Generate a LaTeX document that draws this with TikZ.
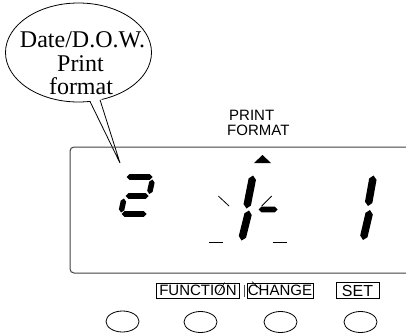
\documentclass[tikz,border=0pt]{standalone}
\usepackage{fontspec}
\setmainfont{Liberation Serif}
\setsansfont{Liberation Sans}
\usetikzlibrary{calc,shapes.geometric}
\newcommand\lcdseg[3]{%
  \fill ($(#1)$) -- ($(#1)!#3!45:(#2)$) -- ($(#2)!#3!-45:(#1)$) -- ($(#2)$)
        -- ($(#2)!#3!45:(#1)$) -- ($(#1)!#3!-45:(#2)$) -- cycle;}
\begin{document}
\begin{tikzpicture}[x=1pt,y=-1pt,
  thinline/.style={line width=0.8pt, black},
  frame/.style={line width=1pt, black!75},
  btnbox/.style={draw, line width=0.8pt, inner sep=0pt, font=\sffamily\fontsize{15}{15}\selectfont},
  knob/.style={draw, line width=0.8pt, ellipse, minimum width=33pt, minimum height=21pt, inner sep=0pt},
  bubtext/.style={font=\fontsize{24}{24}\selectfont, inner sep=0pt, anchor=base},
  lbl/.style={font=\sffamily\fontsize{15}{15}\selectfont, inner sep=0pt, anchor=base west}]
\useasboundingbox (0,0) rectangle (406,334);

% callout bubble
\draw[thinline] (78.5,52.5) ellipse [x radius=73pt, y radius=49.5pt];
\fill[white] (89.5,99) -- (120,163) -- (101,97.5) -- cycle;
\coordinate (tip) at (120,163);
\coordinate (tl) at (90,101.5);
\coordinate (tr) at (100,99.8);
\draw[thinline] (tl) -- (tip) -- (tr);
\node[bubtext] (l1) at (82.5,48) {Date/D.O.W.};
\node[bubtext] (l2) at (80.5,72) {Print};
\node[bubtext] (l3) at (81,95) {format};

% display frame
\draw[frame, rounded corners=4pt] (407,147) -- (70,147) -- (70,273) -- (407,273);

% PRINT FORMAT label and pointer
\node[lbl] (pr) at (229,120) {PRINT};
\node[lbl] (fm) at (227,135) {FORMAT};
\fill (254,163) -- (262.5,155) -- (271,163) -- cycle;

% digit 2
\lcdseg{126.5,177}{152.5,177}{3.9pt}
\lcdseg{152.5,179.5}{149.3,194}{3.9pt}
\lcdseg{125.5,196}{148.5,196}{3.9pt}
\lcdseg{124,198.5}{121,212.5}{3.9pt}
\lcdseg{121.5,214}{146.5,214}{3.9pt}

% blinking 1-
\lcdseg{253,175.5}{246.5,208.5}{5.3pt}
\lcdseg{249,210.5}{241.5,240.5}{5.3pt}
\lcdseg{258.5,209.5}{277.5,209.5}{4pt}
\draw[thinline] (218.3,196) -- (229,206);
\draw[thinline] (261.7,206) -- (271.7,196);
\draw[thinline] (209.3,242.7) -- (223.3,242.7);
\draw[thinline] (272.7,242.7) -- (286.7,242.7);

% right 1
\lcdseg{373.5,175.5}{368,206}{5.3pt}
\lcdseg{370,210}{363,240}{5.3pt}

% buttons
\node[btnbox, minimum width=83pt, minimum height=15pt] (fn) at (198,290.5) {FUNCTION};
\node[btnbox, minimum width=66pt, minimum height=15pt] (ch) at (280,290.5) {CHANGE};
\node[btnbox, minimum width=43pt, minimum height=16pt] (st) at (357.5,290.5)
  {\fontsize{16}{16}\selectfont SET};
\draw[line width=0.6pt, black!70] (244,284.5) -- (244,297);
\draw[line width=0.6pt] (218.5,293) -- (224.5,282.5);
\draw[line width=0.6pt] (252,281.5) -- (261,290);

\node[knob] (k1) at (122.5,321.5) {};
\node[knob] (k2) at (200.5,322) {};
\node[knob] (k3) at (280.5,322) {};
\node[knob] (k4) at (360.5,322) {};
\end{tikzpicture}
\end{document}
